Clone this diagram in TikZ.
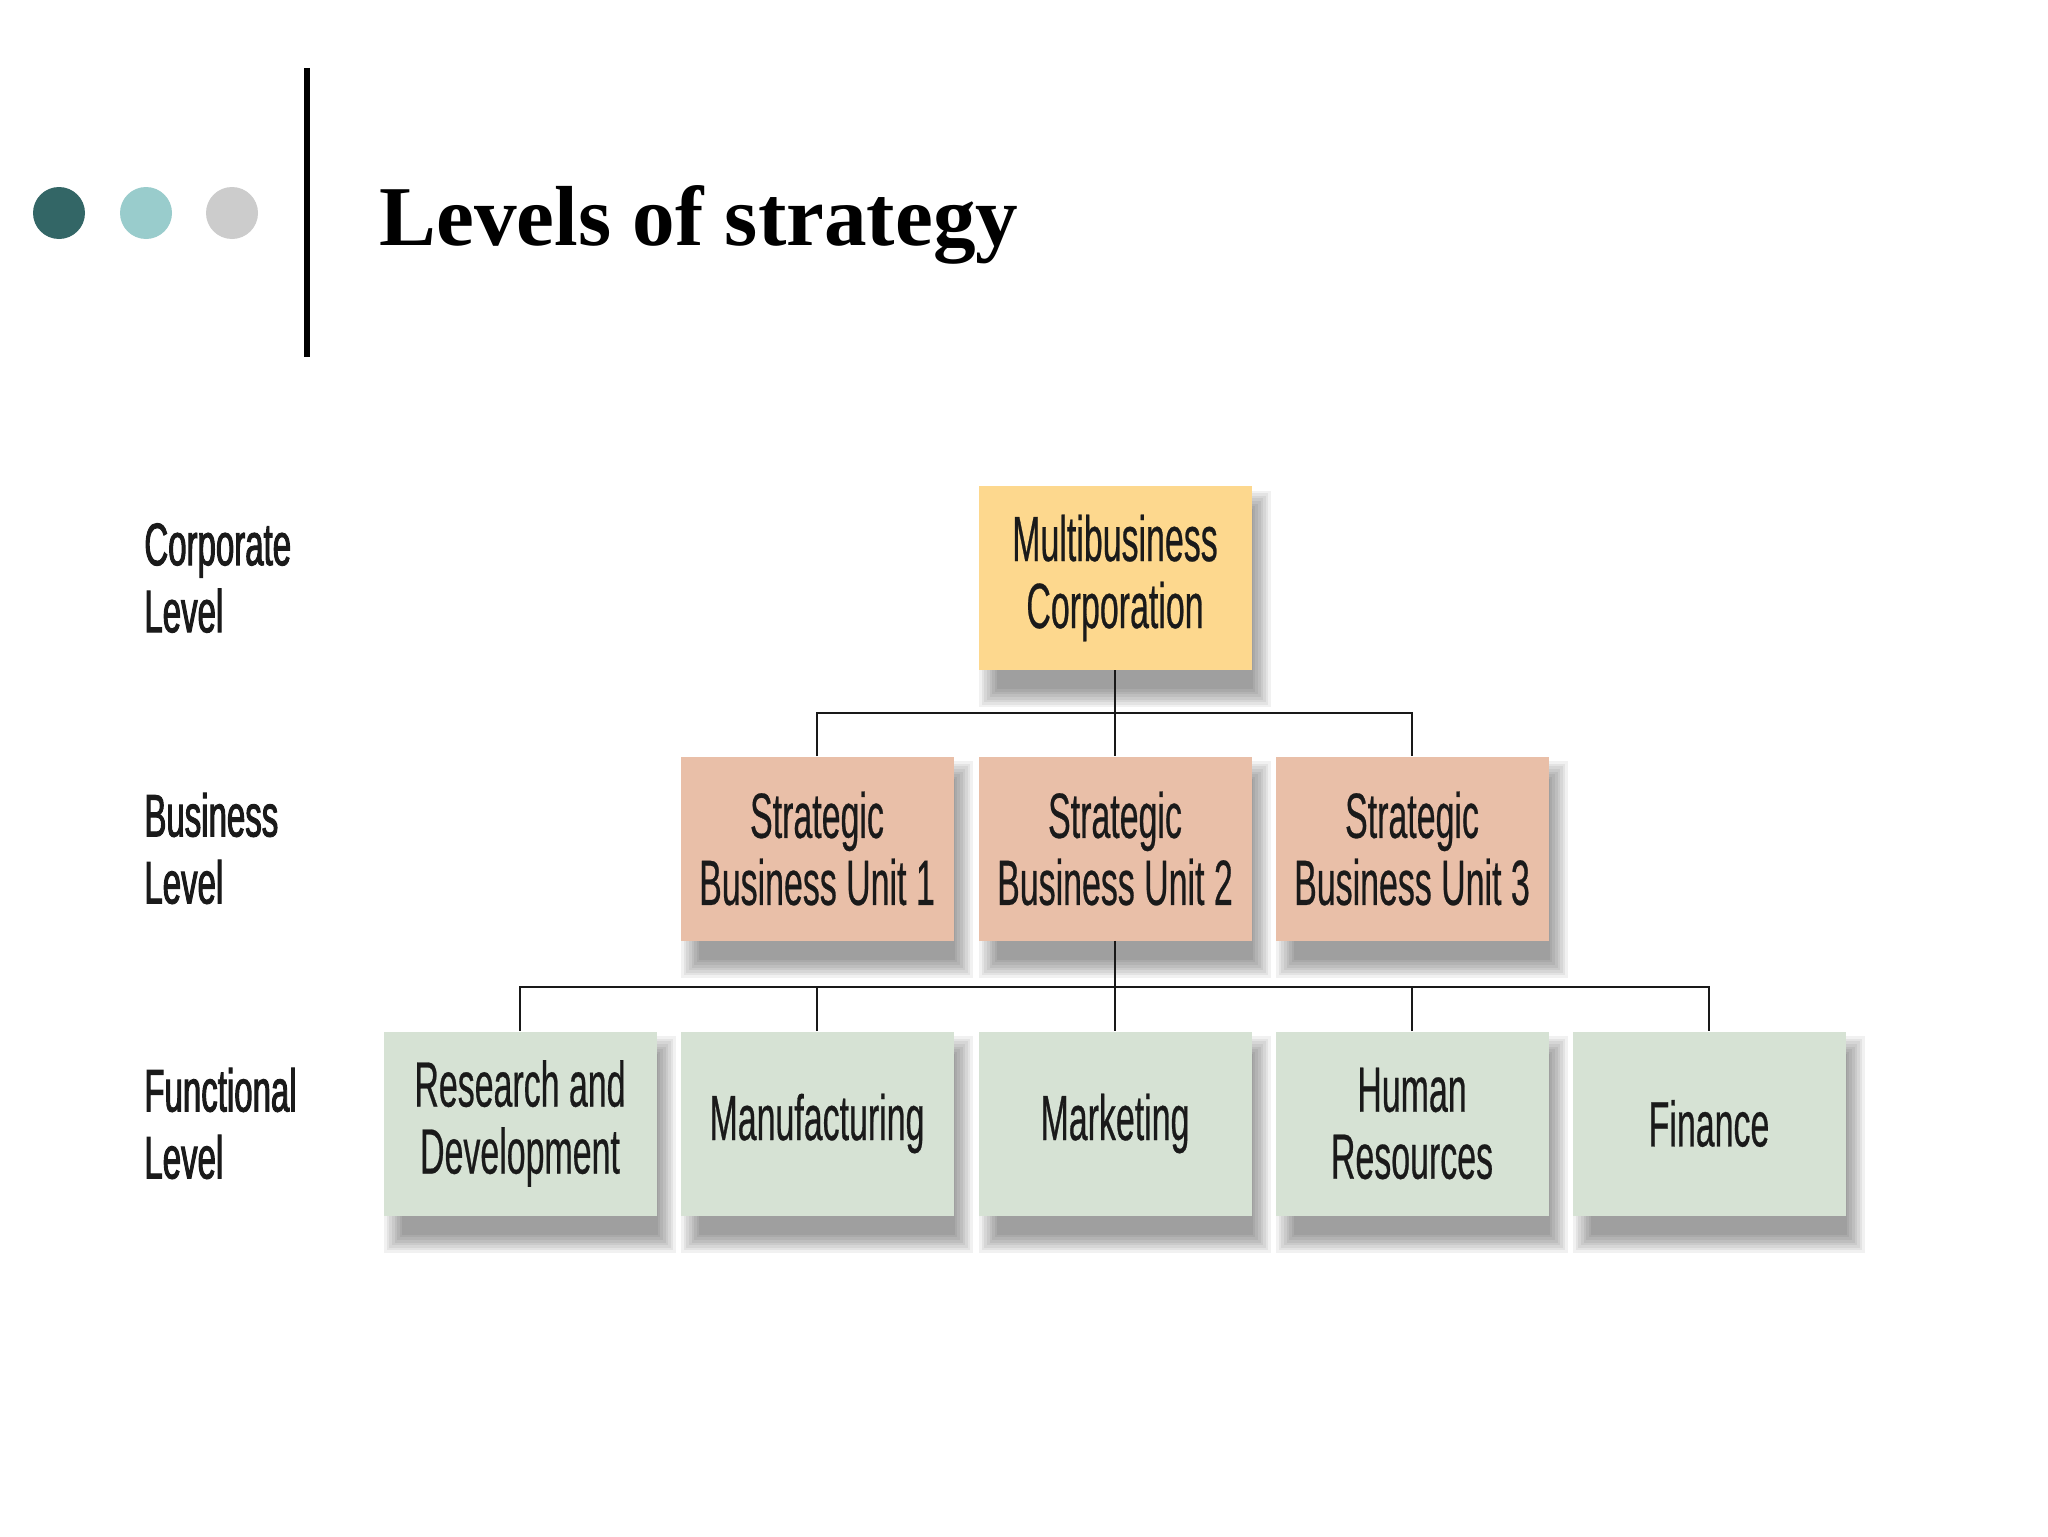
\documentclass[tikz,border=0pt]{standalone}
\usepackage{fontspec}
\usetikzlibrary{backgrounds}
\newfontfamily\condfont[FakeStretch=0.53,FakeBold=0.4]{Liberation Sans}
\newfontfamily\condboldfont[FakeStretch=0.55,FakeBold=1.6]{Liberation Sans}
\newfontfamily\titlefont{Liberation Serif}
\definecolor{dotdark}{HTML}{336666}
\definecolor{dotlight}{HTML}{99CCCC}
\definecolor{dotgray}{HTML}{CCCCCC}
\definecolor{corpfill}{HTML}{FDD88E}
\definecolor{busfill}{HTML}{E9BFA8}
\definecolor{funcfill}{HTML}{D6E2D4}
\definecolor{txt}{HTML}{1A1A1A}
\tikzset{
  orgbox/.style={rectangle, inner sep=0pt, minimum width=136.5pt, minimum height=92pt,
    align=center, text=txt, font=\condfont\fontsize{32}{33.5}\selectfont},
  corpbox/.style={orgbox, fill=corpfill},
  busbox/.style={orgbox, fill=busfill},
  funcbox/.style={orgbox, fill=funcfill},
  levellabel/.style={anchor=west, align=left, inner sep=0pt, text=txt,
    font=\condboldfont\fontsize{30}{33.5}\selectfont},
  conn/.style={line width=1.4pt, draw=black!90},
  dot/.style={circle, inner sep=0pt, minimum size=26pt},
  shadowlayer/.style={fill=black, fill opacity=0.055, draw=none}
}
\begin{document}
\begin{tikzpicture}[x=0.5pt, y=-0.5pt]
\useasboundingbox (0,0) rectangle (2048,1536);
% header
\node[dot, fill=dotdark] (d1) at (59,213) {};
\node[dot, fill=dotlight] (d2) at (146,213) {};
\node[dot, fill=dotgray] (d3) at (232,213) {};
\draw[line width=3pt] (307,68) -- (307,357);
\node[anchor=base west, inner sep=0pt, font=\titlefont\bfseries\fontsize{42.6}{50}\selectfont] (title) at (379,245) {Levels of strategy};
% level labels
\node[levellabel] (lc) at (144,578) {Corporate\\Level};
\node[levellabel] (lb) at (144,848.5) {Business\\Level};
\node[levellabel] (lf) at (144,1123.5) {Functional\\Level};
% boxes
\node[corpbox] (corp) at (1115,578) {Multibusiness\\Corporation};
\node[busbox] (sbu1) at (817,848.5) {Strategic\\Business Unit 1};
\node[busbox] (sbu2) at (1115,848.5) {Strategic\\Business Unit 2};
\node[busbox] (sbu3) at (1412,848.5) {Strategic\\Business Unit 3};
\node[funcbox] (rd) at (520,1123.5) {Research and\\Development};
\node[funcbox] (man) at (817,1123.5) {Manufacturing};
\node[funcbox] (mkt) at (1115,1123.5) {Marketing};
\node[funcbox] (hr) at (1412,1123.5) {Human\\Resources};
\node[funcbox] (fin) at (1709,1123.5) {Finance};
% soft drop shadows
\begin{scope}[on background layer]
\fill[white] (0,0) rectangle (2048,1536);
\foreach \n in {corp,sbu1,sbu2,sbu3,rd,man,mkt,hr,fin}{
  \foreach \d in {-9,-6.4,-3.8,-1.2,1.4,4,6.6,9.2}{
    \fill[shadowlayer] ([shift={(10+\d,14+\d)}]\n.north west) rectangle ([shift={(10-\d,28-\d)}]\n.south east);
  }
}
\end{scope}
% connectors
\coordinate (h1) at (0,713);
\coordinate (h2) at (0,987);
\draw[conn] (corp.south) -- (sbu2.north);
\draw[conn] (sbu1.north) -- (sbu1.north |- h1) -- (sbu3.north |- h1) -- (sbu3.north);
\draw[conn] (sbu2.south) -- (mkt.north);
\draw[conn] (rd.north) -- (rd.north |- h2) -- (fin.north |- h2) -- (fin.north);
\draw[conn] (man.north) -- (man.north |- h2);
\draw[conn] (hr.north) -- (hr.north |- h2);
\end{tikzpicture}
\end{document}
